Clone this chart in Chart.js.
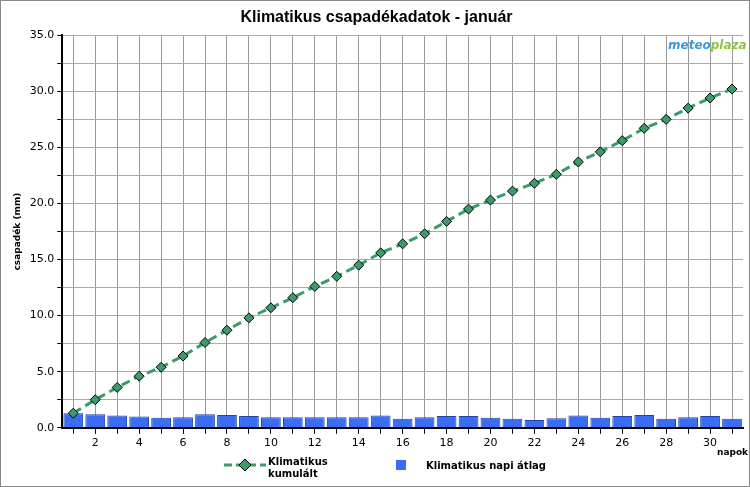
<!DOCTYPE html>
<html><head><meta charset="utf-8">
<script src="https://cdn.jsdelivr.net/npm/chart.js@4"></script>
<style>
html,body{margin:0;padding:0;background:#fff;}
#wrap{position:relative;width:748px;height:485px;border:1px solid #888;}
#c{position:absolute;left:0;top:0;}
.lg{position:absolute;font:bold 10px "DejaVu Sans",Arial,sans-serif;color:#000;}
#logo{position:absolute;left:667px;top:37px;font:italic bold 12px "DejaVu Sans",Arial;color:#3a9ad9;}
</style></head><body>
<div id="wrap">
<canvas id="c" width="748" height="485"></canvas>
<div id="logo">meteo<span style="color:#8cc63f">plaza</span></div>
<svg class="lg" style="left:222px;top:457px" width="44" height="14"><line x1="1" y1="7" x2="43" y2="7" stroke="#3a9a6a" stroke-width="3" stroke-dasharray="8,4"/><polygon points="22,1 28,7 22,13 16,7" fill="#3d9a6a" stroke="#000" stroke-width="1"/></svg>
<div class="lg" style="left:267px;top:455px;line-height:12px">Klimatikus<br>kumulált</div>
<div class="lg" style="left:395px;top:459px;width:10px;height:10px;background:#3b6cf4;"></div>
<div class="lg" style="left:425px;top:459px">Klimatikus napi átlag</div>
<div class="lg" style="left:716px;top:446px;font-size:9px">napok</div>
</div>
<script>
const days = Array.from({length:31},(_,i)=>String(i+1));
const daily = [1.3,1.2,1.1,1.0,0.9,0.95,1.2,1.15,1.05,0.95,0.95,0.95,0.95,0.95,1.1,0.8,0.95,1.05,1.05,0.9,0.8,0.7,0.85,1.1,0.9,1.05,1.15,0.8,0.95,1.05,0.8];
const cumulative = [1.3,2.5,3.6,4.6,5.4,6.4,7.6,8.7,9.8,10.7,11.6,12.6,13.5,14.5,15.6,16.4,17.3,18.4,19.5,20.3,21.1,21.8,22.6,23.7,24.6,25.6,26.7,27.5,28.5,29.4,30.2];
const yTitle = 'csapadék (mm)';
const title = 'Klimatikus csapadékadatok - január';
new Chart(document.getElementById('c'),{
  data:{labels:days,datasets:[
    {type:'line',label:'Klimatikus kumulált',data:cumulative,borderColor:'#3a9a6a',borderWidth:3,borderDash:[9,5],
     pointStyle:'rectRot',pointRadius:5,pointBackgroundColor:'#3d9a6a',pointBorderColor:'#000',pointBorderWidth:1,order:0},
    {type:'bar',label:'Klimatikus napi átlag',data:daily,backgroundColor:'#3b6cf4',borderColor:'#2244aa',borderWidth:1,categoryPercentage:1,barPercentage:0.9,order:1}
  ]},
  options:{responsive:false,animation:false,
    layout:{padding:{left:7,right:4,top:1,bottom:33}},
    plugins:{legend:{display:false},tooltip:{enabled:false},
      title:{display:true,text:title,color:'#000',font:{family:'Liberation Sans',size:16,weight:'bold'},padding:{top:6,bottom:8}}},
    scales:{
      x:{offset:true,grid:{offset:false,color:'#999',tickColor:'#000',tickLength:6},border:{color:'#000',width:2},
         ticks:{color:'#000',font:{family:'DejaVu Sans',size:11},autoSkip:false,maxRotation:0,callback:(v,i)=>(i%2===1?days[i]:'')}},
      y:{min:0,max:35,grid:{color:'#aaa',tickColor:'#000',tickLength:5},border:{color:'#000',width:2},
         title:{display:true,text:yTitle,color:'#000',font:{family:'DejaVu Sans',size:9,weight:'bold'}},
         ticks:{stepSize:2.5,color:'#000',font:{family:'DejaVu Sans',size:11},callback:v=>(v%5===0?v.toFixed(1):'')}}
    }}
});
</script></body></html>
